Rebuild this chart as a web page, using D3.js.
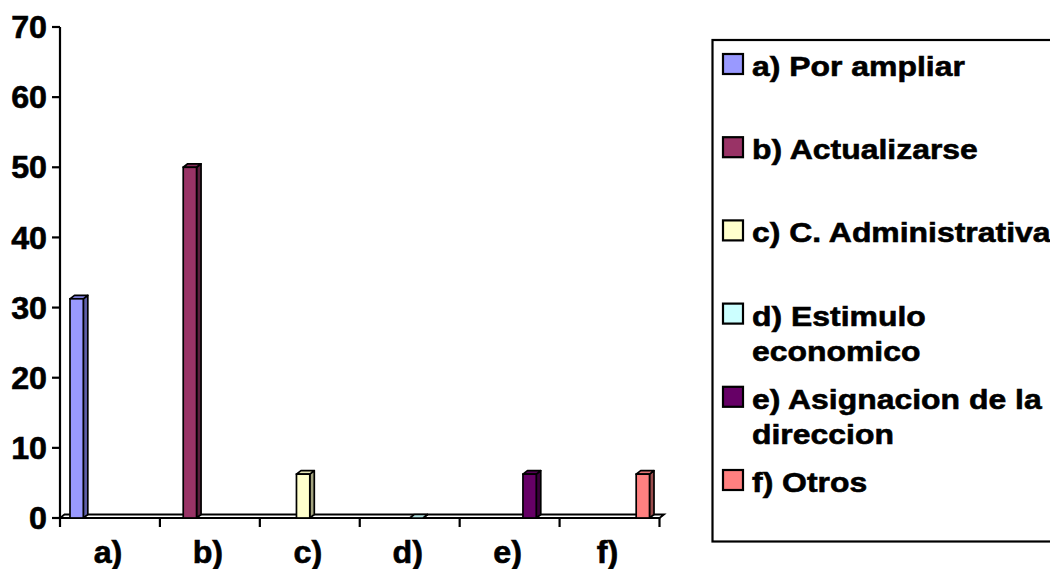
<!DOCTYPE html>
<html>
<head>
<meta charset="utf-8">
<script src="https://cdn.jsdelivr.net/npm/d3@7"></script>
<style>
  html, body { margin: 0; padding: 0; background: #fff; }
  svg { display: block; }
  text { font-family: "Liberation Sans", Arial, sans-serif; font-weight: bold; fill: #000;
         stroke: #000; stroke-width: 0.6px; }
</style>
</head>
<body>
<svg id="chart" width="1050" height="569"></svg>
<script>
// Categories on the x axis
const categories = ["a)", "b)", "c)", "d)", "e)", "f)"];
// One series per category; each series only has its own category's value (percent)
const values = [31.25, 50, 6.25, 0, 6.25, 6.25];
// Legend entries, split into the lines they wrap onto
const legendLines = [
  ["a) Por ampliar"],
  ["b) Actualizarse"],
  ["c) C. Administrativa"],
  ["d) Estimulo", "economico"],
  ["e) Asignacion de la", "direccion"],
  ["f) Otros"]
];
const colors = ["#9999FF", "#993366", "#FFFFCC", "#CCFFFF", "#660066", "#FF8080"];
const sideColors = ["#5f5fa8", "#5a1f3d", "#a3a37e", "#7fa8a8", "#3a003a", "#9a4c4c"];
const topColors = ["#8585e6", "#872d5a", "#e6e6b5", "#b5e6e6", "#550055", "#e67373"];
const yTicks = [0, 10, 20, 30, 40, 50, 60, 70];

const svg = d3.select("#chart");
const plot = { left: 60, right: 659.5, top: 27, bottom: 518 };
const depth = { dx: 4.5, dy: -3.5 };
const axisStretch = 1.04;
const legendStretch = 1.12;

const x = d3.scaleBand().domain(categories).range([plot.left, plot.right]).padding(0);
const slot = d3.scaleBand().domain(d3.range(values.length))
  .range([0, x.bandwidth()]).paddingInner(0).paddingOuter(0.75);
const y = d3.scaleLinear().domain([0, 70]).range([plot.bottom, plot.top]);

const pts = a => a.map(p => p.join(",")).join(" ");

// Floor slab
const y0 = y(0);
svg.append("polygon")
  .attr("points", pts([[plot.left, y0], [plot.right, y0],
    [plot.right + depth.dx, y0 + depth.dy], [plot.left + depth.dx, y0 + depth.dy]]))
  .attr("fill", "#fff").attr("stroke", "#000").attr("stroke-width", 1.8);

// Columns as 3D boxes
const bars = svg.append("g").selectAll("g")
  .data(values.map((v, i) => ({ v, i, cat: categories[i] })))
  .join("g");

bars.each(function (d) {
  const g = d3.select(this);
  const bx = x(d.cat) + slot(d.i);
  const w = slot.bandwidth();
  const yt = y(d.v);
  // side
  g.append("polygon")
    .attr("points", pts([[bx + w, yt], [bx + w + depth.dx, yt + depth.dy],
      [bx + w + depth.dx, y0 + depth.dy], [bx + w, y0]]))
    .attr("fill", sideColors[d.i]).attr("stroke", "#000").attr("stroke-width", 1.7)
    .attr("stroke-linejoin", "round");
  // top
  g.append("polygon")
    .attr("points", pts([[bx, yt], [bx + depth.dx, yt + depth.dy],
      [bx + w + depth.dx, yt + depth.dy], [bx + w, yt]]))
    .attr("fill", topColors[d.i]).attr("stroke", "#000").attr("stroke-width", 1.7)
    .attr("stroke-linejoin", "round");
  // front
  if (d.v > 0) {
    g.append("rect")
      .attr("x", bx).attr("y", yt).attr("width", w).attr("height", y0 - yt)
      .attr("fill", colors[d.i]).attr("stroke", "#000").attr("stroke-width", 1.7);
  }
});

// Y axis
const yAxis = svg.append("g").attr("transform", `translate(${plot.left},0)`);
yAxis.append("line").attr("x1", 0).attr("x2", 0)
  .attr("y1", y(70)).attr("y2", y0).attr("stroke", "#000").attr("stroke-width", 2.2);
const yt = yAxis.selectAll("g.tick").data(yTicks).join("g").attr("class", "tick")
  .attr("transform", d => `translate(0,${y(d)})`);
yt.append("line").attr("x1", -8).attr("x2", 0).attr("stroke", "#000").attr("stroke-width", 2.2);
yt.append("g").attr("transform", `translate(-13,0) scale(${axisStretch},1)`)
  .append("text").attr("text-anchor", "end").attr("dy", "0.36em")
  .style("font-size", "31px").text(d => d);

// X axis: boundary ticks and centred labels
const bounds = categories.map(c => x(c)).concat([plot.right]);
svg.append("g").selectAll("line").data(bounds).join("line")
  .attr("x1", d => d).attr("x2", d => d)
  .attr("y1", y0).attr("y2", y0 + 9)
  .attr("stroke", "#000").attr("stroke-width", 2.2);
svg.append("g").selectAll("g").data(categories).join("g")
  .attr("transform", d => `translate(${x(d) + x.bandwidth() / 2 - 2},563) scale(${axisStretch},1)`)
  .append("text").attr("text-anchor", "middle")
  .style("font-size", "31px").text(d => d);

// Legend
const legend = svg.append("g");
legend.append("rect")
  .attr("x", 712.5).attr("y", 40).attr("width", 360).attr("height", 501.5)
  .attr("fill", "#fff").attr("stroke", "#000").attr("stroke-width", 2.2);
const rowY = d3.scaleLinear().domain([0, 5]).range([76, 492]);
const items = legend.selectAll("g.item").data(legendLines).join("g").attr("class", "item")
  .attr("transform", (d, i) => `translate(0,${rowY(i)})`);
items.append("rect")
  .attr("x", 723).attr("y", -22).attr("width", 20).attr("height", 20)
  .attr("fill", (d, i) => colors[i]).attr("stroke", "#000").attr("stroke-width", 2.2);
items.each(function (lines) {
  const g = d3.select(this);
  lines.forEach((t, k) => {
    g.append("g").attr("transform", `translate(752,${k * 35.5}) scale(${legendStretch},1)`)
      .append("text").style("font-size", "28.5px").text(t);
  });
});
</script>
</body>
</html>
